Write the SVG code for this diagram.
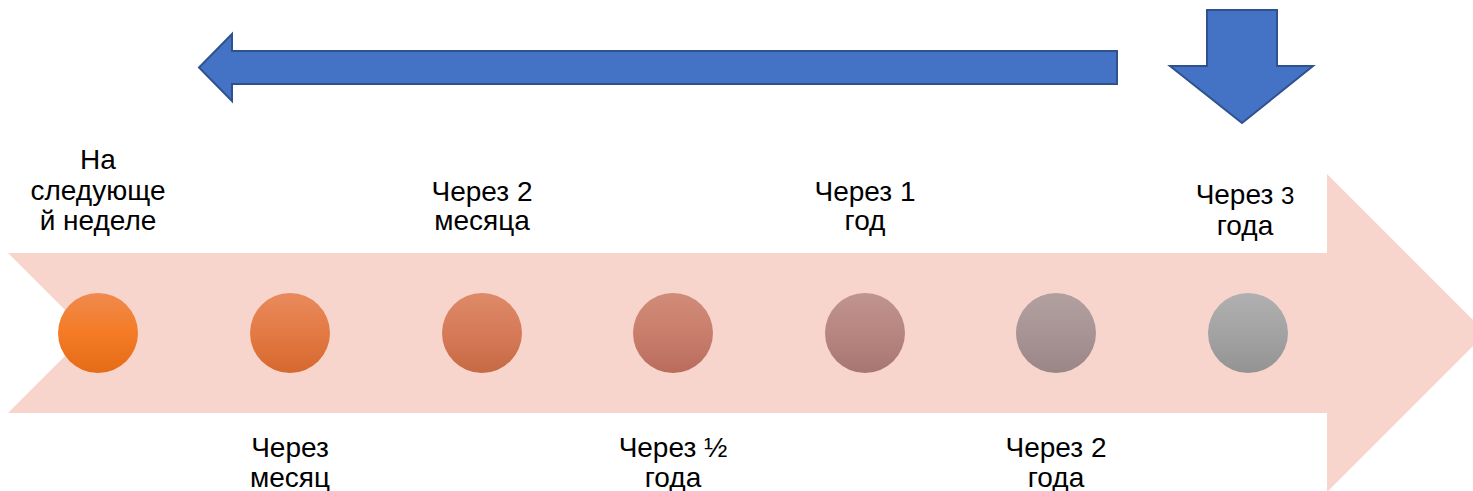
<svg xmlns="http://www.w3.org/2000/svg" width="1473" height="491" viewBox="0 0 1473 491">
<defs>
<style>
text{font-family:"Liberation Sans",Arial,sans-serif;font-size:28px;fill:#000;text-anchor:middle}
.blue{fill:#4472C4;stroke:#2F528F;stroke-width:2}
</style>
<linearGradient id="g1" x1="0" y1="0" x2="0" y2="1"><stop offset="0" stop-color="#F08A50"/><stop offset="0.5" stop-color="#F47B24"/><stop offset="1" stop-color="#E56B18"/></linearGradient>
<linearGradient id="g2" x1="0" y1="0" x2="0" y2="1"><stop offset="0" stop-color="#E98A5C"/><stop offset="0.5" stop-color="#E37A44"/><stop offset="1" stop-color="#D5682E"/></linearGradient>
<linearGradient id="g3" x1="0" y1="0" x2="0" y2="1"><stop offset="0" stop-color="#DE8A68"/><stop offset="0.5" stop-color="#D67A58"/><stop offset="1" stop-color="#C66A44"/></linearGradient>
<linearGradient id="g4" x1="0" y1="0" x2="0" y2="1"><stop offset="0" stop-color="#D08C78"/><stop offset="0.5" stop-color="#C97E6C"/><stop offset="1" stop-color="#B96C5C"/></linearGradient>
<linearGradient id="g5" x1="0" y1="0" x2="0" y2="1"><stop offset="0" stop-color="#C09490"/><stop offset="0.5" stop-color="#B78680"/><stop offset="1" stop-color="#A87672"/></linearGradient>
<linearGradient id="g6" x1="0" y1="0" x2="0" y2="1"><stop offset="0" stop-color="#B2A0A0"/><stop offset="0.5" stop-color="#A89494"/><stop offset="1" stop-color="#9A8686"/></linearGradient>
<linearGradient id="g7" x1="0" y1="0" x2="0" y2="1"><stop offset="0" stop-color="#B0B0B0"/><stop offset="0.5" stop-color="#A3A3A3"/><stop offset="1" stop-color="#939393"/></linearGradient>
</defs>
<g id="timeline">
<polygon points="8,253 1327,253 1327,174 1486,333 1327,492 1327,413 8,413 88,333" fill="#F8D5CC"/>
</g>
<g id="arrow-left">
<polygon class="blue" points="1117,51 232,51 232,34 199,67.5 232,101 232,84 1117,84"/>
</g>
<g id="arrow-down">
<polygon class="blue" points="1207,10 1277,10 1277,66 1313,66 1242,123 1170,66 1207,66"/>
</g>
<g id="node1"><circle cx="98" cy="333" r="40" fill="url(#g1)"/><text><tspan x="98" y="169">На</tspan><tspan x="98" y="200">следующе</tspan><tspan x="98" y="230">й неделе</tspan></text></g>
<g id="node2"><circle cx="290" cy="333" r="40" fill="url(#g2)"/><text><tspan x="290" y="457">Через</tspan><tspan x="290" y="487">месяц</tspan></text></g>
<g id="node3"><circle cx="482" cy="333" r="40" fill="url(#g3)"/><text><tspan x="482" y="201">Через 2</tspan><tspan x="482" y="230">месяца</tspan></text></g>
<g id="node4"><circle cx="673" cy="333" r="40" fill="url(#g4)"/><text><tspan x="673" y="457">Через ½</tspan><tspan x="673" y="487">года</tspan></text></g>
<g id="node5"><circle cx="865" cy="333" r="40" fill="url(#g5)"/><text><tspan x="865" y="201">Через 1</tspan><tspan x="865" y="230">год</tspan></text></g>
<g id="node6"><circle cx="1056" cy="333" r="40" fill="url(#g6)"/><text><tspan x="1056" y="457">Через 2</tspan><tspan x="1056" y="487">года</tspan></text></g>
<g id="node7"><circle cx="1248" cy="333" r="40" fill="url(#g7)"/><text><tspan x="1245" y="204">Через <tspan font-size="24">3</tspan></tspan><tspan x="1245" y="235">года</tspan></text></g>
<g id="connectors"></g>
</svg>
